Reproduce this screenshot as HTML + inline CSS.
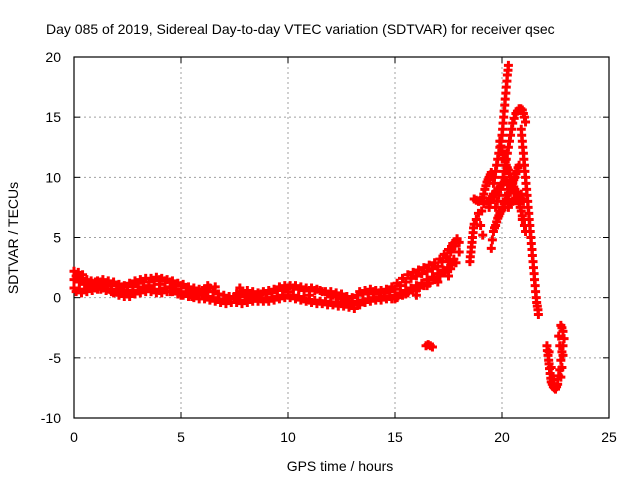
<!DOCTYPE html>
<html><head><meta charset="utf-8"><style>
html,body{margin:0;padding:0;background:#fff}
svg{display:block;font-family:"Liberation Sans",sans-serif}
</style></head><body>
<svg id="chart" width="640" height="480" viewBox="0 0 640 480">
<text x="46" y="34" font-size="14" fill="#000">Day 085 of 2019, Sidereal Day-to-day VTEC variation (SDTVAR) for receiver qsec</text>
<g id="grid"></g>
<g id="axes"></g>
<g id="marks"></g>
<text x="340" y="471" font-size="14" text-anchor="middle">GPS time / hours</text>
<text transform="translate(18,238) rotate(-90)" font-size="14" text-anchor="middle">SDTVAR / TECUs</text>
</svg>
<script>
const xTicks=[0,5,10,15,20,25];
const yTicks=[-10,-5,0,5,10,15,20];
const trackUpper=[[0,2.2],[0.2,2.1],[0.4,1.9],[0.6,1.5],[0.8,1.4],[1,1.3],[1.25,1.3],[1.5,1.2],[1.75,1.1],[2,1.0],[2.25,0.9],[2.5,0.9],[2.75,1.1],[3,1.2],[3.25,1.3],[3.5,1.3],[3.75,1.4],[4,1.5],[4.25,1.4],[4.5,1.3],[4.75,1.1],[5,1.0],[5.25,0.8],[5.5,0.6],[5.75,0.5],[6,0.4],[6.25,0.5],[6.5,0.5],[6.75,0.3],[7,0.2],[7.25,0.1],[7.5,0.1],[7.75,0.2],[8,0.3],[8.25,0.2],[8.5,0.2],[8.75,0.3],[9,0.3],[9.25,0.4],[9.5,0.6],[9.75,0.7],[10,0.8],[10.25,0.8],[10.5,0.7],[10.75,0.6],[11,0.6],[11.25,0.6],[11.5,0.6],[11.75,0.5],[12,0.5],[12.25,0.4],[12.5,0.3],[12.75,0.1],[13,0.0],[13.25,0.2],[13.5,0.3],[13.75,0.4],[14,0.5],[14.25,0.4],[14.5,0.4],[14.75,0.5],[15,0.7],[15.25,1.0],[15.5,1.3],[15.75,1.6],[16,1.8],[16.25,2.0],[16.5,2.2],[16.75,2.4],[17,2.6],[17.2,3.0],[17.4,3.4],[17.6,3.8],[17.8,4.3],[18,4.6]];
const trackUpper2=[[0.1,1.8],[0.35,1.6],[0.6,1.2],[0.85,1.2],[1.1,1.4],[1.35,1.5],[1.6,1.4],[1.85,1.3],[2.1,1.1],[2.35,1.0],[2.6,1.2],[2.85,1.4],[3.1,1.5],[3.35,1.6],[3.6,1.6],[3.85,1.7],[4.1,1.6],[4.35,1.5],[4.6,1.4],[4.85,1.2],[5.1,1.1],[5.35,0.9],[5.6,0.8],[5.85,0.7],[6.1,0.7],[6.35,0.8],[6.6,0.9],[7.6,0.3],[7.85,0.5],[8.1,0.6],[8.35,0.5],[8.6,0.4],[8.85,0.5],[9.1,0.6],[9.35,0.7],[9.6,0.9],[9.85,1.0],[10.1,1.0],[10.35,1.0],[10.6,0.9],[10.85,0.8],[11.1,0.8],[11.35,0.7],[11.6,0.5],[11.85,0.3],[12.1,0.2],[12.35,0.1],[12.6,-0.1],[12.85,-0.3],[13.35,0.5],[13.6,0.6],[13.85,0.7],[14.1,0.6],[14.35,0.6],[14.6,0.7],[14.85,0.9],[15.1,1.2],[15.35,1.6],[15.6,1.9],[15.85,2.1],[16.1,2.3],[16.35,2.5],[16.6,2.7],[16.85,2.9],[17.1,3.2],[17.3,3.6],[17.5,4.0],[17.7,4.5],[17.9,4.9]];
const trackLower=[[0,0.8],[0.25,0.7],[0.5,0.7],[0.75,0.9],[1,1.0],[1.25,1.1],[1.5,1.0],[1.75,0.7],[2,0.5],[2.25,0.4],[2.5,0.3],[2.75,0.5],[3,0.6],[3.25,0.7],[3.5,0.8],[3.75,0.7],[4,0.6],[4.25,0.8],[4.5,0.9],[4.75,0.7],[5,0.5],[5.25,0.4],[5.5,0.3],[5.75,0.2],[6,0.2],[6.25,0.1],[6.5,0.0],[6.75,-0.1],[7,-0.2],[7.25,-0.1],[7.5,-0.1],[7.75,-0.2],[8,-0.2],[8.25,-0.1],[8.5,0.0],[8.75,-0.1],[9,-0.1],[9.25,0.0],[9.5,0.1],[9.75,0.2],[10,0.2],[10.25,0.2],[10.5,0.1],[10.75,-0.1],[11,-0.2],[11.25,-0.2],[11.5,-0.3],[11.75,-0.3],[12,-0.4],[12.25,-0.4],[12.5,-0.5],[12.75,-0.5],[13,-0.6],[13.25,-0.4],[13.5,-0.2],[13.75,-0.1],[14,0.0],[14.25,0.0],[14.5,0.1],[14.75,0.1],[15,0.2],[15.25,0.4],[15.5,0.6],[15.75,0.8],[16,1.0],[16.25,1.2],[16.5,1.5],[16.75,1.7],[17,2.0],[17.25,2.3],[17.5,2.5],[17.75,3.2],[18,3.8]];
const trackLower2=[[0.1,0.5],[0.35,0.4],[0.6,0.5],[0.85,0.6],[1.1,0.7],[1.35,0.8],[1.6,0.7],[1.85,0.4],[2.1,0.2],[2.35,0.1],[2.6,0.1],[2.85,0.3],[3.1,0.4],[3.35,0.5],[3.6,0.5],[3.85,0.4],[4.1,0.4],[4.35,0.5],[4.6,0.5],[4.85,0.3],[5.1,0.2],[5.35,0.1],[5.6,0.0],[5.85,-0.1],[6.1,-0.1],[6.35,-0.2],[6.6,-0.3],[6.85,-0.4],[7.1,-0.5],[7.35,-0.4],[7.6,-0.4],[7.85,-0.5],[8.1,-0.4],[8.35,-0.3],[8.6,-0.3],[8.85,-0.3],[9.1,-0.3],[9.35,-0.2],[9.6,-0.1],[9.85,0.0],[10.1,0.0],[10.35,-0.1],[10.6,-0.2],[10.85,-0.3],[11.1,-0.4],[11.35,-0.5],[11.6,-0.5],[11.85,-0.6],[12.1,-0.6],[12.35,-0.7],[12.6,-0.7],[12.85,-0.8],[13.1,-0.9],[13.35,-0.6],[13.6,-0.4],[13.85,-0.3],[14.1,-0.2],[14.35,-0.2],[14.6,-0.1],[14.85,-0.1],[15.1,0.0],[15.35,0.2],[15.6,0.4],[15.85,0.6],[16.1,0.8],[16.35,1.0],[16.6,1.2],[16.85,1.5],[17.1,1.8],[17.35,2.1],[17.6,2.4],[17.85,2.9]];
const trackMid=[[0,1.5],[0.25,1.3],[0.5,1.1],[0.75,1.0],[1,0.8],[1.25,0.7],[1.5,0.6],[1.75,0.5],[2,0.7],[2.5,0.6],[3,0.9],[3.5,1.0],[4,1.1],[4.5,0.5],[5,0.2],[5.5,0.1],[6,0.6],[6.25,1.0],[7.75,0.8],[8,0.1],[9,0.0],[10,0.5],[11,0.2],[12,0.1],[13,-0.3],[14,0.3],[15,-0.1],[15.5,0.3],[16,0.6],[16.5,1.0],[17,1.3],[17.5,1.8]];
const trackPeak=[[19.6,9.5],[19.65,10.0],[19.7,10.5],[19.75,11.0],[19.8,11.5],[19.85,12.0],[19.9,12.5],[19.95,13.0],[20.0,13.5],[20.03,14.0],[20.05,14.5],[20.08,15.0],[20.1,15.5],[20.13,16.0],[20.15,16.5],[20.18,17.0],[20.2,17.5],[20.23,18.0],[20.25,18.5],[20.28,18.9],[20.3,19.3]];
const trackPeak2=[[19.7,7.5],[19.78,8.0],[19.85,8.5],[19.93,9.0],[20.0,9.5],[20.05,10.0],[20.1,10.5],[20.15,11.0],[20.2,11.5],[20.25,12.0],[20.3,12.5],[20.35,13.0],[20.4,13.5],[20.45,14.0],[20.5,14.5],[20.57,14.9],[20.65,15.3],[20.72,15.5],[20.8,15.7],[20.88,15.7],[20.95,15.6],[21.0,15.3],[21.05,15.0],[21.1,14.6]];
const trackFall=[[20.9,14.0],[20.92,13.5],[20.95,13.0],[20.97,12.5],[21.0,12.0],[21.02,11.5],[21.05,11.0],[21.07,10.5],[21.1,10.0],[21.12,9.5],[21.15,9.0],[21.17,8.5],[21.2,8.0],[21.22,7.5],[21.25,7.0],[21.27,6.5],[21.3,6.0],[21.32,5.5],[21.35,5.0],[21.37,4.5],[21.4,4.0],[21.42,3.5],[21.45,3.0],[21.47,2.5],[21.5,2.0],[21.52,1.5],[21.55,1.0],[21.57,0.5],[21.6,0.0],[21.62,-0.4],[21.65,-0.7],[21.68,-1.0],[21.7,-1.4]];
const trackFall2=[[19.9,13.0],[19.95,12.6],[20.0,12.2],[20.05,11.9],[20.1,11.6],[20.15,11.3],[20.2,11.0],[20.25,10.8],[20.3,10.6],[20.35,10.3],[20.4,10.0],[20.45,9.7],[20.5,9.5],[20.55,9.2],[20.6,9.0],[20.65,8.7],[20.7,8.4],[20.75,8.1],[20.8,7.8],[20.85,7.5],[20.9,7.2],[20.95,6.8],[21.0,6.5],[21.05,6.0],[21.1,5.5]];
const trackRise=[[18.7,8.2],[18.8,8.1],[18.9,8.0],[19.0,8.1],[19.1,8.3],[19.15,8.6],[19.2,9.0],[19.25,9.3],[19.3,9.6],[19.35,9.8],[19.4,10.0],[19.45,10.2],[19.5,10.4],[19.3,8.0],[19.4,7.5],[19.45,7.9],[19.5,8.2],[19.55,8.4],[19.6,8.6],[19.7,8.8],[19.8,9.0],[19.9,9.2],[20.0,9.4],[20.1,9.6],[20.2,9.7],[20.3,9.5],[20.4,9.2],[20.5,9.0],[20.6,8.8],[20.7,8.6],[20.8,8.4],[20.9,8.2],[21.0,8.0]];
const trackRise2=[[19.5,4.1],[19.55,4.8],[19.6,5.5],[19.65,5.8],[19.7,6.0],[19.75,6.3],[19.8,6.6],[19.85,6.8],[19.9,7.0],[19.95,7.2],[20.0,7.3],[20.05,7.5],[20.1,7.8],[20.15,8.0],[20.2,8.2],[20.25,8.5],[20.3,8.7],[20.35,9.0],[20.4,9.2],[20.45,9.4],[20.5,9.6],[20.55,9.8],[20.6,10.0],[20.65,10.3],[20.7,10.5],[20.75,10.8],[20.8,11.0],[20.3,7.5],[20.4,7.8],[20.5,8.0],[20.6,8.2],[20.7,8.3],[20.8,8.5],[20.9,8.6],[20.95,6.5]];
const trackLeft=[[18.5,3.0],[18.52,3.4],[18.55,3.8],[18.57,4.2],[18.6,4.6],[18.62,5.0],[18.65,5.4],[18.67,5.8],[18.7,6.1],[18.8,6.5],[18.9,7.0],[19.0,6.0],[19.05,7.2],[19.1,5.2],[19.15,7.8],[17.5,3.0],[17.6,4.0],[17.7,4.3],[17.8,4.6],[17.9,4.8],[17.6,2.7],[17.3,2.2],[17.4,3.3],[16.8,1.7],[16.0,0.2]];
const trackBlob=[[16.45,-4.0],[16.55,-3.9],[16.65,-4.0],[16.75,-4.1]];
const trackEnd=[[22.1,-4.0],[22.12,-4.4],[22.15,-4.8],[22.18,-5.2],[22.2,-5.5],[22.22,-5.9],[22.25,-6.3],[22.28,-6.7],[22.3,-7.0],[22.35,-7.2],[22.4,-7.4],[22.45,-7.5],[22.5,-7.6],[22.55,-7.4],[22.6,-7.2],[22.65,-6.5],[22.7,-6.0],[22.75,-5.2],[22.8,-4.5],[22.85,-4.0],[22.65,-3.2],[22.7,-4.0],[22.75,-2.3],[22.8,-2.5],[22.85,-2.8],[22.9,-3.4],[22.2,-4.5],[22.3,-5.8],[22.75,-6.6],[22.8,-5.8],[22.4,-6.8],[22.85,-4.8]];
const tracks=[trackUpper,trackUpper2,trackLower,trackLower2,trackMid,trackPeak,trackPeak2,trackFall,trackFall2,trackRise,trackRise2,trackLeft,trackBlob,trackEnd];

const X0=74,X1=609,Y0=418,Y1=57;
function xs(t){return X0+(t-0)/(25-0)*(X1-X0);}
function ys(v){return Y0-(v+10)/(30)*(Y0-Y1);}
const NS='http://www.w3.org/2000/svg';
const grid=document.getElementById('grid'),axes=document.getElementById('axes'),marks=document.getElementById('marks');
function mk(tag,attrs,parent){const e=document.createElementNS(NS,tag);for(const k in attrs)e.setAttribute(k,attrs[k]);parent.appendChild(e);return e;}
xTicks.forEach(t=>{
  const x=xs(t);
  if(t>0&&t<25){const g=mk('line',{x1:x,x2:x,y1:Y1,y2:Y0,stroke:'#a0a0a0','stroke-dasharray':'2,3'},grid);
  
  }
  const l=mk('text',{x:x,y:Y0+24,'font-size':14,'text-anchor':'middle'},axes);l.textContent=t;
  
  
  mk('line',{x1:x,x2:x,y1:Y0,y2:Y0-6,stroke:'#000'},axes);
  mk('line',{x1:x,x2:x,y1:Y1,y2:Y1+6,stroke:'#000'},axes);
});
yTicks.forEach(v=>{
  const y=ys(v);
  if(v>-10&&v<20){const g=mk('line',{x1:X0,x2:X1,y1:y,y2:y,stroke:'#a0a0a0','stroke-dasharray':'2,3'},grid);
  
  }
  const l=mk('text',{x:X0-13,y:y+5,'font-size':14,'text-anchor':'end'},axes);l.textContent=v;
  
  
  mk('line',{x1:X0,x2:X0+6,y1:y,y2:y,stroke:'#000'},axes);
  mk('line',{x1:X1,x2:X1-6,y1:y,y2:y,stroke:'#000'},axes);
});
const fr=mk('rect',{x:X0,y:Y1,width:X1-X0,height:Y0-Y1,fill:'none',stroke:'#000','stroke-width':1.2},axes);


tracks.forEach(tr=>{tr.forEach(p=>{
  const x=xs(p[0]),y=ys(p[1]);
  const m=mk('path',{d:`M${x-4.5},${y}H${x+4.5}M${x},${y-4.5}V${y+4.5}`,stroke:'#ff0000','stroke-width':3,fill:'none'},marks);
  
  
});});
</script>
</body></html>
